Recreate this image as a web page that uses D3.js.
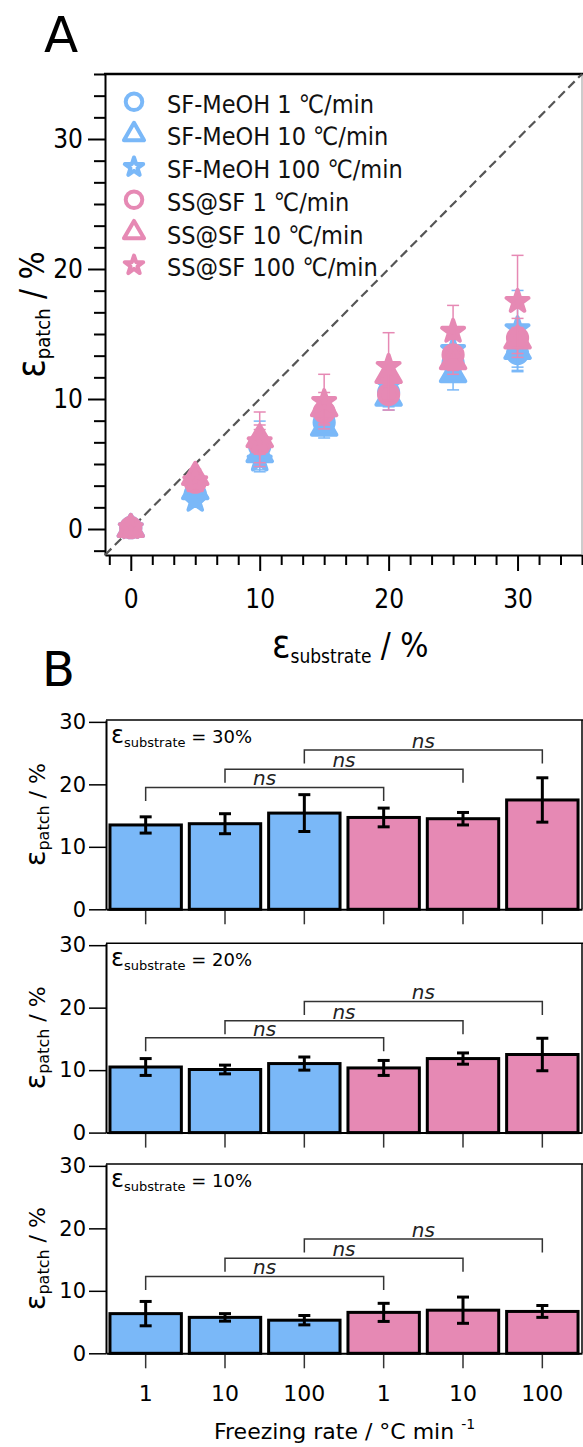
<!DOCTYPE html>
<html>
<head>
<meta charset="utf-8">
<script src="https://cdn.jsdelivr.net/npm/d3@7"></script>
<style>
body { margin: 0; background: #fff; }
</style>
</head>
<body>
<div id="chart"></div>
<script>
// strain applied to the substrate (%)
const substrateStrain = [0, 5, 10, 15, 20, 25, 30]

const seriesNames = [
    "SF-MeOH 1 ℃/min", "SF-MeOH 10 ℃/min", "SF-MeOH 100 ℃/min",
    "SS@SF 1 ℃/min", "SS@SF 10 ℃/min", "SS@SF 100 ℃/min"
]

// patch strain (%) and its error, one entry per substrate strain
const sfMeoh1 = [0.1, 2.7, 6.35, 8.2, 10.5, 12.8, 13.5]
const sfMeoh1Err = [0, 0.4, 1.95, 0.9, 1.35, 1.1, 1.3]
const sfMeoh10 = [0.0, 2.9, 5.75, 7.8, 10.1, 11.9, 13.7]
const sfMeoh10Err = [0, 0.5, 0.6, 0.8, 0.7, 1.2, 1.6]
const sfMeoh100 = [0.1, 2.2, 5.3, 8.5, 11.05, 13.8, 15.4]
const sfMeoh100Err = [0, 0.4, 0.75, 0.9, 1.05, 1.3, 2.95]
const ssSf1 = [0.1, 3.6, 6.55, 9.0, 10.35, 13.4, 14.7]
const ssSf1Err = [0, 0.5, 1.45, 1.0, 1.2, 1.2, 1.5]
const ssSf10 = [0.0, 4.0, 6.9, 9.3, 11.85, 12.9, 14.5]
const ssSf10Err = [0, 0.6, 2.1, 1.2, 0.9, 1.0, 1.0]
const ssSf100 = [0.1, 3.7, 6.7, 9.8, 12.5, 15.2, 17.5]
const ssSf100Err = [0, 0.6, 0.95, 2.1, 2.6, 2.0, 3.55]

const seriesMeans = [sfMeoh1, sfMeoh10, sfMeoh100, ssSf1, ssSf10, ssSf100]
const seriesErrors = [sfMeoh1Err, sfMeoh10Err, sfMeoh100Err, ssSf1Err, ssSf10Err, ssSf100Err]

// panel B
const rateLabels = ["1", "10", "100", "1", "10", "100"]
const panelStrains = [30, 20, 10]
const bracketPairs = [[0, 3], [1, 4], [2, 5]]
const bracketLevels = [[19.5, 22.4, 25.5], [15.2, 17.9, 21.0], [12.3, 15.2, 18.3]]

const ticksA = [0, 10, 20, 30]
const ticksB = [0, 10, 20, 30]

const gc = {
    width: 583,
    height: 1447,
    blue: "#7ab8f8",
    pink: "#e689b4",
    fontA: "'DejaVu Sans Condensed', 'DejaVu Sans', sans-serif",
    fontB: "'DejaVu Sans', sans-serif",
    A: { left: 105, right: 582, top: 74, bottom: 555, domain: [-2, 35] },
    B: { left: 106, right: 582, tops: [720, 943.3, 1164], h: 189.3, ymax: 30.3 },
    legend: { x: 134, y: 101.7, dy: 32.7, textX: 167 },
    shapes: ["circle", "triangle", "star", "circle", "triangle", "star"],
    legendSize: { circle: 215, triangle: 175, star: 105 },
    pointSize: { circle: 290, triangle: 260, star: 150 }
}

function seriesColor(i) {
    return i < 3 ? gc.blue : gc.pink
}

function symbolPath(shape, sizes) {
    const type = { circle: d3.symbolCircle, triangle: d3.symbolTriangle, star: d3.symbolStar }[shape]
    return d3.symbol().type(type).size(sizes[shape])()
}

function styleAxis(g, font, size) {
    g.attr("font-family", font).attr("font-size", size)
    g.selectAll("line").style("stroke", "#000").style("stroke-width", 2)
    g.selectAll("text").style("fill", "#000")
    g.select(".domain").style("stroke", "#000").style("stroke-width", 2)
}

function drawPanelA(svg) {
    const a = gc.A
    const x = d3.scaleLinear().domain(a.domain).range([a.left, a.right])
    const y = d3.scaleLinear().domain(a.domain).range([a.bottom, a.top])
    const minors = d3.range(-1, 22).map(i => i * 10 / 6).filter(v => Math.abs(v % 10) > 0.01)

    // minor ticks
    svg.append("g").attr("transform", `translate(${a.left},0)`)
        .call(d3.axisLeft(y).tickValues(minors).tickSize(11).tickSizeOuter(0).tickFormat(""))
        .call(g => { styleAxis(g, gc.fontA, 26); g.select(".domain").remove() })
    svg.append("g").attr("transform", `translate(0,${a.bottom})`)
        .call(d3.axisBottom(x).tickValues(minors).tickSize(10).tickSizeOuter(0).tickFormat(""))
        .call(g => { styleAxis(g, gc.fontA, 26); g.select(".domain").remove() })

    // major ticks
    svg.append("g").attr("transform", `translate(${a.left},0)`)
        .call(d3.axisLeft(y).tickValues(ticksA).tickSize(17).tickSizeOuter(0).tickPadding(5))
        .call(g => styleAxis(g, gc.fontA, 26))
    svg.append("g").attr("transform", `translate(0,${a.bottom})`)
        .call(d3.axisBottom(x).tickValues(ticksA).tickSize(16).tickSizeOuter(0).tickPadding(19))
        .call(g => styleAxis(g, gc.fontA, 26))

    // frame
    svg.append("line")
        .attr("x1", a.left - 1).attr("y1", a.top).attr("x2", gc.width).attr("y2", a.top)
        .style("stroke", "#000").style("stroke-width", 2.5)
    svg.append("line")
        .attr("x1", a.right).attr("y1", a.top).attr("x2", a.right).attr("y2", a.bottom)
        .style("stroke", "#999").style("stroke-width", 1)

    // y = x
    svg.append("line")
        .attr("x1", x(a.domain[0])).attr("y1", y(a.domain[0]))
        .attr("x2", x(a.domain[1])).attr("y2", y(a.domain[1]))
        .style("stroke", "#555").style("stroke-width", 2.2)
        .style("stroke-dasharray", "9,5")

    // points with error bars
    seriesMeans.forEach((means, i) => {
        const color = seriesColor(i)
        const g = svg.append("g")
        means.forEach((m, j) => {
            const e = seriesErrors[i][j]
            const cx = x(substrateStrain[j])
            if (e > 0) {
                g.append("line")
                    .attr("x1", cx).attr("x2", cx).attr("y1", y(m - e)).attr("y2", y(m + e))
                    .style("stroke", color).style("stroke-width", 1.5)
                ;[m - e, m + e].forEach(v => {
                    g.append("line")
                        .attr("x1", cx - 6).attr("x2", cx + 6).attr("y1", y(v)).attr("y2", y(v))
                        .style("stroke", color).style("stroke-width", 1.5)
                })
            }
            g.append("path")
                .attr("d", symbolPath(gc.shapes[i], gc.pointSize))
                .attr("transform", `translate(${cx},${y(m)})`)
                .style("fill", color)
                .style("stroke", color)
                .style("stroke-width", 4)
                .style("stroke-linejoin", "round")
        })
    })

    // legend
    const l = gc.legend
    seriesNames.forEach((name, i) => {
        const cy = l.y + i * l.dy
        svg.append("path")
            .attr("d", symbolPath(gc.shapes[i], gc.legendSize))
            .attr("transform", `translate(${l.x},${cy})`)
            .style("fill", "#fff")
            .style("stroke", seriesColor(i))
            .style("stroke-width", 4)
            .style("stroke-linejoin", "round")
        svg.append("text")
            .attr("x", l.textX).attr("y", cy + 11)
            .attr("font-family", gc.fontA).attr("font-size", 25)
            .style("fill", "#111")
            .text(name)
    })

    // axis titles
    const xt = svg.append("text").attr("x", 272).attr("y", 657)
        .attr("font-family", gc.fontA).style("fill", "#000")
    xt.append("tspan").attr("font-size", 38).text("ε")
    xt.append("tspan").attr("font-size", 19).attr("dy", 6).text("substrate")
    xt.append("tspan").attr("font-size", 33).attr("dy", -6).text(" / %")

    const yt = svg.append("text")
        .attr("transform", `translate(44,${(a.top + a.bottom) / 2}) rotate(-90)`)
        .attr("text-anchor", "middle")
        .attr("font-family", gc.fontA).style("fill", "#000")
    yt.append("tspan").attr("font-size", 38).text("ε")
    yt.append("tspan").attr("font-size", 20).attr("dy", 6).text("patch")
    yt.append("tspan").attr("font-size", 33).attr("dy", -6).text(" / %")

    svg.append("text").attr("x", 44).attr("y", 52)
        .attr("font-family", gc.fontB).attr("font-size", 50)
        .text("A")
}

function drawPanelB(svg) {
    const b = gc.B
    const x = d3.scaleBand().domain(d3.range(rateLabels.length))
        .range([b.left, b.right]).paddingInner(0.1).paddingOuter(0.05)

    panelStrains.forEach((strain, p) => {
        const top = b.tops[p]
        const zero = top + b.h
        const y = d3.scaleLinear().domain([0, b.ymax]).range([zero, top])
        const k = substrateStrain.indexOf(strain)
        const g = svg.append("g")

        // x ticks
        g.append("g").attr("transform", `translate(0,${zero})`)
            .call(d3.axisBottom(x).tickSize(15).tickSizeOuter(0).tickPadding(17)
                .tickFormat(i => p === panelStrains.length - 1 ? rateLabels[i] : ""))
            .call(s => {
                styleAxis(s, gc.fontB, 22)
                s.selectAll(".tick line").style("stroke", "#333").style("stroke-width", 1.5)
            })

        // y axis
        g.append("g").attr("transform", `translate(${b.left},0)`)
            .call(d3.axisLeft(y).tickValues(ticksB).tickSize(17).tickSizeOuter(0).tickPadding(3))
            .call(s => {
                styleAxis(s, gc.fontB, 21)
                s.selectAll(".tick line").style("stroke-width", 1.5)
            })

        // frame
        g.append("line")
            .attr("x1", b.left).attr("y1", top).attr("x2", gc.width).attr("y2", top)
            .style("stroke", "#000").style("stroke-width", 1.5)
        g.append("line")
            .attr("x1", b.right).attr("y1", top).attr("x2", b.right).attr("y2", zero)
            .style("stroke", "#000").style("stroke-width", 1.5)

        // bars
        seriesMeans.forEach((means, i) => {
            const m = means[k]
            g.append("rect")
                .attr("x", x(i)).attr("y", y(m))
                .attr("width", x.bandwidth()).attr("height", zero - y(m))
                .style("fill", seriesColor(i))
                .style("stroke", "#000").style("stroke-width", 3)
        })

        // error bars
        seriesMeans.forEach((means, i) => {
            const m = means[k]
            const e = seriesErrors[i][k]
            const cx = x(i) + x.bandwidth() / 2
            g.append("line")
                .attr("x1", cx).attr("x2", cx).attr("y1", y(m - e)).attr("y2", y(m + e))
                .style("stroke", "#000").style("stroke-width", 3)
            ;[m - e, m + e].forEach(v => {
                g.append("line")
                    .attr("x1", cx - 6).attr("x2", cx + 6).attr("y1", y(v)).attr("y2", y(v))
                    .style("stroke", "#000").style("stroke-width", 3)
            })
        })

        // significance brackets
        bracketPairs.forEach((pair, j) => {
            const level = bracketLevels[p][j]
            const x1 = x(pair[0]) + x.bandwidth() / 2
            const x2 = x(pair[1]) + x.bandwidth() / 2
            const yl = y(level)
            g.append("path")
                .attr("d", `M${x1},${yl + 13.5}V${yl}H${x2}V${yl + 13.5}`)
                .style("fill", "none").style("stroke", "#333").style("stroke-width", 1.5)
            g.append("text")
                .attr("x", (x1 + x2) / 2).attr("y", yl - 2)
                .attr("text-anchor", "middle")
                .attr("font-family", gc.fontB).attr("font-size", 20)
                .style("font-style", "italic")
                .style("fill", "#222")
                .text("ns")
        })

        // inner label
        const lab = g.append("text").attr("x", 111).attr("y", top + 23)
            .attr("font-family", gc.fontB).style("fill", "#000")
        lab.append("tspan").attr("font-size", 24).text("ε")
        lab.append("tspan").attr("font-size", 13).attr("dy", 4).text("substrate")
        lab.append("tspan").attr("font-size", 18).attr("dy", -4).text(" = " + strain + "%")

        // y title
        const yt = g.append("text")
            .attr("transform", `translate(45,${top + b.h / 2}) rotate(-90)`)
            .attr("text-anchor", "middle")
            .attr("font-family", gc.fontB).style("fill", "#000")
        yt.append("tspan").attr("font-size", 29).text("ε")
        yt.append("tspan").attr("font-size", 16).attr("dy", 4).text("patch")
        yt.append("tspan").attr("font-size", 22).attr("dy", -4).text("  / %")
    })

    const xt = svg.append("text").attr("x", 214).attr("y", 1439)
        .attr("font-family", gc.fontB).style("fill", "#000")
    xt.append("tspan").attr("font-size", 22).text("Freezing rate / °C min ")
    xt.append("tspan").attr("font-size", 14).attr("dy", -10).text("-1")

    svg.append("text").attr("x", 42).attr("y", 686)
        .attr("font-family", gc.fontB).attr("font-size", 48)
        .text("B")
}

const svg = d3.select("#chart").append("svg")
    .attr("width", gc.width)
    .attr("height", gc.height)

drawPanelA(svg)
drawPanelB(svg)
</script>
</body>
</html>
